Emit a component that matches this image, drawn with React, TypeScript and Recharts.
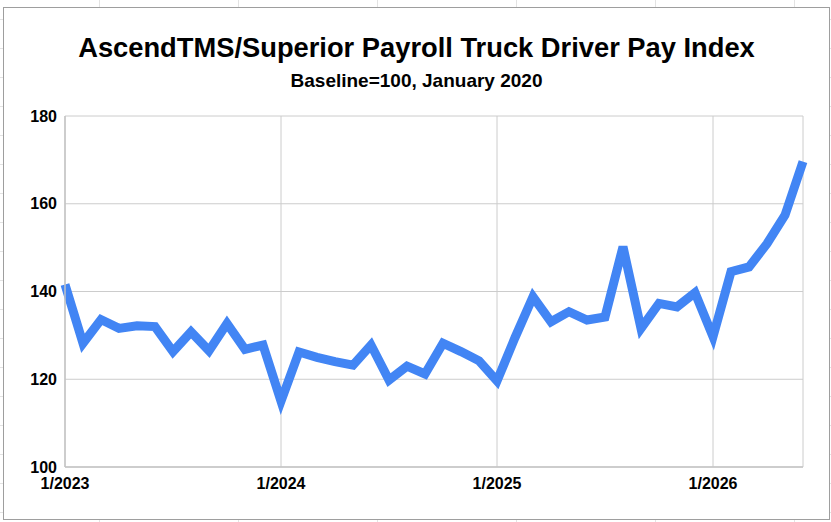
import { LineChart, Line, XAxis, YAxis, CartesianGrid } from "recharts";

const MONTHS = [
  "1/2023", "2/2023", "3/2023", "4/2023", "5/2023", "6/2023",
  "7/2023", "8/2023", "9/2023", "10/2023", "11/2023", "12/2023",
  "1/2024", "2/2024", "3/2024", "4/2024", "5/2024", "6/2024",
  "7/2024", "8/2024", "9/2024", "10/2024", "11/2024", "12/2024",
  "1/2025", "2/2025", "3/2025", "4/2025", "5/2025", "6/2025",
  "7/2025", "8/2025", "9/2025", "10/2025", "11/2025", "12/2025",
  "1/2026", "2/2026", "3/2026", "4/2026", "5/2026", "6/2026",
];

const PAY_INDEX = [
  141.6, 128.2, 133.6, 131.6, 132.2, 132.0, 126.3, 130.8, 126.5, 132.7, 126.8, 127.8,
  115.0, 126.2, 125.0, 124.0, 123.2, 127.8, 119.8, 123.0, 121.2, 128.2, 126.3, 124.2,
  119.6, 129.5, 138.8, 133.1, 135.4, 133.5, 134.2, 150.2, 131.6, 137.3, 136.5, 139.7,
  129.7, 144.5, 145.6, 150.9, 157.4, 169.6,
];

const X_TICKS = ["1/2023", "1/2024", "1/2025", "1/2026"];
const Y_TICKS = [100, 120, 140, 160, 180];

const TITLE = "AscendTMS/Superior Payroll Truck Driver Pay Index";
const SUBTITLE = "Baseline=100, January 2020";

const data = MONTHS.map((month, i) => ({ month, value: PAY_INDEX[i] }));

const FONT = "'Liberation Sans', Arial, sans-serif";

export default function App() {
  return (
    <div
      style={{
        position: "absolute",
        left: 0,
        top: 0,
        width: 831,
        height: 522,
        overflow: "hidden",
        backgroundColor: "#fff",
        backgroundImage:
          "repeating-linear-gradient(to right, transparent 0 99px, #e3e3e3 99px 100px, transparent 100px 139px), repeating-linear-gradient(to bottom, transparent 0 19px, #e3e3e3 19px 20px, transparent 20px 29px)",
        fontFamily: FONT,
      }}
    >
      {/* chart frame */}
      <div
        style={{
          position: "absolute",
          left: 3,
          top: 7,
          width: 825,
          height: 511,
          border: "1px solid #9e9e9e",
          background: "#fff",
        }}
      />
      <div style={{ position: "absolute", left: 0, top: 0 }}>
        <LineChart
          width={831}
          height={522}
          data={data}
          margin={{ top: 116, right: 28, bottom: 25, left: 0 }}
        >
          <CartesianGrid stroke="#cccccc" strokeWidth={1} />
          <XAxis
            dataKey="month"
            ticks={X_TICKS}
            interval={0}
            tickLine={false}
            tickMargin={5}
            height={30}
            axisLine={{ stroke: "#c4c4c4", strokeWidth: 1.5 }}
            tick={{ fill: "#000", fontSize: 16, fontWeight: 700, fontFamily: FONT }}
          />
          <YAxis
            domain={[100, 180]}
            ticks={Y_TICKS}
            width={65}
            tickLine={false}
            axisLine={{ stroke: "#c4c4c4", strokeWidth: 1.5 }}
            tick={{ fill: "#000", fontSize: 16, fontWeight: 700, fontFamily: FONT }}
          />
          <Line
            type="linear"
            dataKey="value"
            stroke="#4285f4"
            strokeWidth={9}
            dot={false}
            activeDot={false}
            isAnimationActive={false}
          />
        </LineChart>
      </div>
      <svg
        width={831}
        height={522}
        style={{ position: "absolute", left: 0, top: 0, pointerEvents: "none" }}
      >
        <text x={416.5} y={57} textAnchor="middle" fontSize={27.3} fontWeight={700} fill="#000" fontFamily={FONT}>
          {TITLE}
        </text>
        <text x={416.5} y={87} textAnchor="middle" fontSize={19} fontWeight={700} fill="#000" fontFamily={FONT}>
          {SUBTITLE}
        </text>
      </svg>
    </div>
  );
}
